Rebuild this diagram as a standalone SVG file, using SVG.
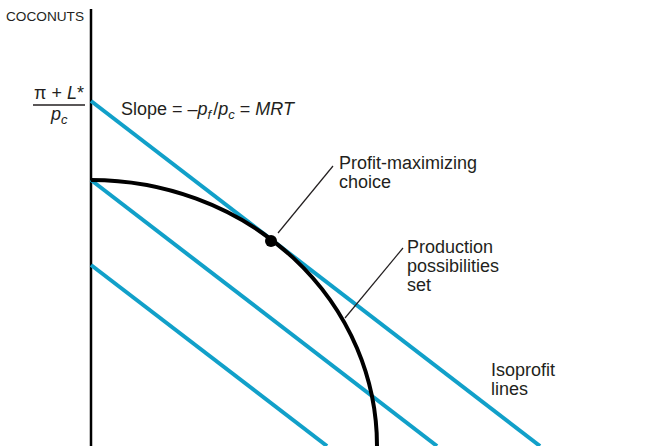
<svg xmlns="http://www.w3.org/2000/svg" width="652" height="446" viewBox="0 0 652 446">
<style>
.t{font-family:"Liberation Sans",Arial,sans-serif;font-size:18px;fill:#231f20}
.i{font-style:italic}
.iso{stroke:#11a0c9;stroke-width:4;fill:none}
.lead{stroke:#231f20;stroke-width:1.2;fill:none}
</style>
<rect width="652" height="446" fill="#fff"/>
<g id="axis">
<line x1="91" y1="9" x2="91" y2="446" stroke="#000" stroke-width="2.5"/>
<text class="t" x="6" y="21" style="font-size:12.5px" textLength="78" lengthAdjust="spacingAndGlyphs">COCONUTS</text>
</g>
<g id="intercept-label">
<text class="t" x="34" y="99">π + <tspan class="i">L</tspan>*</text>
<line x1="33" y1="105" x2="85" y2="105" stroke="#231f20" stroke-width="1.5"/>
<text class="t i" x="51" y="120">p<tspan style="font-size:13px" dy="4">c</tspan></text>
</g>
<g id="connectors">
<line id="iso-top" class="iso" x1="91" y1="101" x2="540" y2="446"/>
<line id="iso-mid" class="iso" x1="91" y1="180" x2="437" y2="446"/>
<line id="iso-low" class="iso" x1="91" y1="265" x2="327" y2="446"/>
<line class="lead" x1="278" y1="233" x2="333" y2="166"/>
<line class="lead" x1="345" y1="318" x2="403" y2="248"/>
</g>
<g id="ppf">
<path d="M91,180 A286,266 0 0 1 377,446" fill="none" stroke="#000" stroke-width="4"/>
</g>
<g id="choice-point">
<circle cx="271" cy="241" r="6" fill="#000"/>
</g>
<g id="slope-label">
<text class="t" x="121" y="115">Slope = –<tspan class="i">p</tspan><tspan class="i" style="font-size:13px" dy="4">f</tspan><tspan dy="-4" dx="2">/</tspan><tspan class="i">p</tspan><tspan class="i" style="font-size:13px" dy="4">c</tspan><tspan dy="-4"> = </tspan><tspan class="i">MRT</tspan></text>
</g>
<g id="profit-label">
<text class="t" x="339" y="169">Profit-maximizing</text>
<text class="t" x="339" y="188">choice</text>
</g>
<g id="pps-label">
<text class="t" x="407" y="253">Production</text>
<text class="t" x="407" y="272">possibilities</text>
<text class="t" x="407" y="291">set</text>
</g>
<g id="iso-label">
<text class="t" x="491" y="376">Isoprofit</text>
<text class="t" x="491" y="395">lines</text>
</g>
</svg>
